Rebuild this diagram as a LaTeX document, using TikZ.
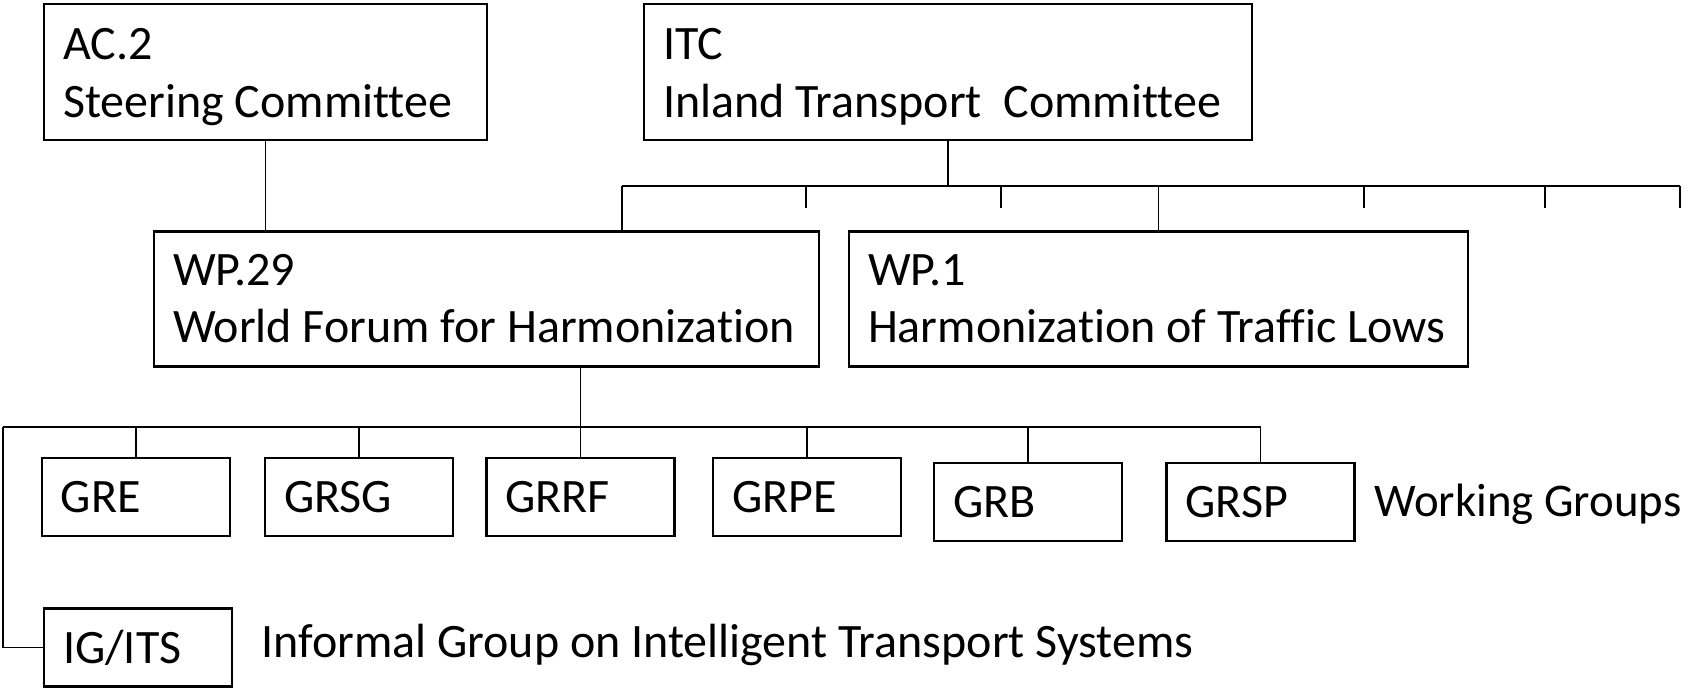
\documentclass[tikz,border=0pt]{standalone}
\usepackage{fontspec}
\setmainfont{Carlito}[Ligatures=NoCommon]
\tikzset{
  unitbox/.style={draw, line width=1.2pt, inner xsep=9.5pt, inner ysep=0pt,
    font=\fontsize{24}{28.7}\selectfont, align=flush left},
  bigbox/.style 2 args={unitbox, text height=#1, text depth=#2},
  grbox/.style={unitbox, text width=75pt, minimum height=39pt},
  link/.style={line width=0.7pt},
  note/.style={inner sep=0pt, font=\fontsize{24}{28.7}\selectfont}
}
\begin{document}
\begin{tikzpicture}[x=0.5pt,y=-0.5pt]
  \useasboundingbox (0,0) rectangle (1688,688);

  % top level
  \node[bigbox={28pt}{40pt}, text width=202.5pt] (ac2) at (265.5,72) {AC.2\\Steering Committee};
  \node[bigbox={28pt}{40pt}, text width=285pt] (itc) at (948,72) {ITC\\Inland Transport\ \ Committee};

  % working parties
  \node[bigbox={26.7pt}{40.8pt}, text width=313.5pt] (wp29) at (486.5,299.2) {WP.29\\World Forum for Harmonization};
  \node[bigbox={26.7pt}{40.8pt}, text width=290.5pt] (wp1) at (1158.5,299.2) {WP.1\\Harmonization of Traffic Lows};

  % working groups
  \node[grbox] (gre)  at (136,497)    {GRE};
  \node[grbox] (grsg) at (359,497)    {GRSG};
  \node[grbox] (grrf) at (580.5,497)  {GRRF};
  \node[grbox] (grpe) at (807,497)    {GRPE};
  \node[grbox] (grb)  at (1028,502)   {GRB};
  \node[grbox] (grsp) at (1260.5,502) {GRSP};
  \node[grbox] (igits) at (138,647.5) {IG/ITS};

  \node[note, anchor=base west, font=\fontsize{23.4}{28}\selectfont] (wglabel) at (1374,516.5) {Working Groups};
  \node[note, anchor=base west] (iglabel) at (261,658) {Informal Group on Intelligent Transport Systems};

  % ITC bus
  \coordinate (busL) at (622,186);
  \coordinate (busR) at (1680,186);
  \draw[link] (ac2.south) -- (ac2.south |- wp29.north);
  \draw[link] (itc.south) -- (itc.south |- busL);
  \draw[link] (busL) -- (busR);
  \draw[link] (busL) -- (busL |- wp29.north);
  \draw[link] (wp1.north) -- (wp1.north |- busL);
  \foreach \x [count=\i] in {806,1001,1364,1545,1680} {
    \coordinate (tick\i) at (\x,186);
    \draw[link] (tick\i) -- ++(0,22);
  }

  % WP.29 bus
  \coordinate (lowL) at (3,427);
  \coordinate (lowR) at (grsp.north |- lowL);
  \draw[link] (grrf.north) -- (grrf.north |- wp29.south);
  \draw[link] (lowL) -- (lowR);
  \foreach \g in {gre,grsg,grpe,grb,grsp}
    \draw[link] (\g.north) -- (\g.north |- lowL);
  \draw[link] (lowL) |- (igits.west);
\end{tikzpicture}
\end{document}
